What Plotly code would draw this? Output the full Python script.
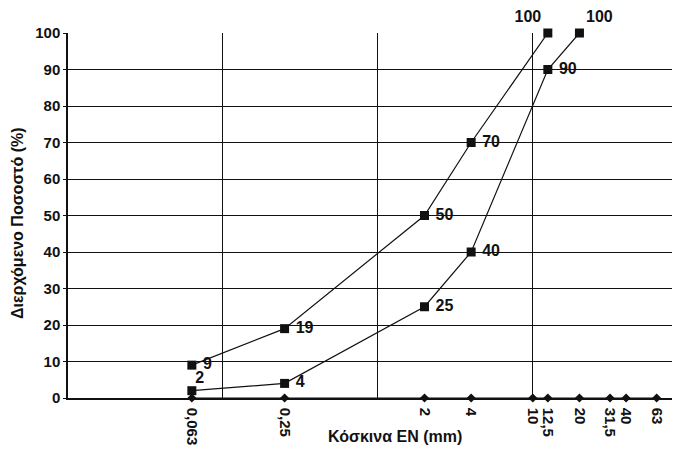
import plotly.graph_objects as go

sieves = [0.063, 0.25, 2, 4, 10, 12.5, 20, 31.5, 40, 63]
sieve_labels = ["0,063", "0,25", "2", "4", "10", "12,5", "20", "31,5", "40", "63"]
sieve_zero = [0] * len(sieves)

upper_x = [0.063, 0.25, 2, 4, 12.5]
upper_y = [9, 19, 50, 70, 100]

lower_x = [0.063, 0.25, 2, 4, 12.5, 20]
lower_y = [2, 4, 25, 40, 90, 100]

# label placement (style only)
upper_pos = ["middle right", "middle right", "middle right", "middle right", "top left"]
upper_gap = [9, 9, 9, 9, 9]
lower_pos = ["top right", "middle right", "middle right", "middle right", "middle right", "top right"]
lower_gap = [4, 9, 9, 9, 9, 9]

decade_grid = [0.1, 1, 10]
y_ticks = list(range(0, 101, 10))

FONT = "Liberation Sans, Arial, sans-serif"
BLACK = "#111111"
PAD = "\u00a0"

fig = go.Figure()

fig.add_trace(go.Scatter(
    x=sieves, y=sieve_zero, mode="lines+markers",
    line=dict(color=BLACK, width=1),
    marker=dict(symbol="diamond", size=7, color=BLACK),
    showlegend=False, cliponaxis=False, hoverinfo="skip"))

for xs, ys, pos, gap in [(upper_x, upper_y, upper_pos, upper_gap),
                         (lower_x, lower_y, lower_pos, lower_gap)]:
    fig.add_trace(go.Scatter(
        x=xs, y=ys, mode="lines+markers",
        line=dict(color=BLACK, width=1.2),
        marker=dict(symbol="square", size=9, color=BLACK),
        showlegend=False, cliponaxis=False))
    labels = [(PAD + str(v)) if p == "middle right" else str(v) for v, p in zip(ys, pos)]
    fig.add_trace(go.Scatter(
        x=xs, y=ys, mode="markers+text",
        marker=dict(size=gap, opacity=0),
        text=labels, textposition=pos,
        textfont=dict(family=FONT, size=16, color=BLACK, weight="bold"),
        showlegend=False, cliponaxis=False, hoverinfo="skip"))

# invisible trace on secondary x axis for decade grid lines
fig.add_trace(go.Scatter(x=[0.1], y=[0], xaxis="x2", mode="markers",
                         marker=dict(opacity=0), showlegend=False, hoverinfo="skip"))

fig.update_layout(
    width=672, height=442,
    margin=dict(l=60, r=0, t=25, b=52, autoexpand=False),
    paper_bgcolor="white", plot_bgcolor="white",
    font=dict(family=FONT, color=BLACK),
    xaxis=dict(type="log", range=[-2, 1.95], automargin=False,
               tickvals=sieves, ticktext=sieve_labels, tickangle=90,
               tickfont=dict(size=15, weight="bold", family=FONT),
               showgrid=False, zeroline=False,
               showline=True, linecolor=BLACK, linewidth=1.5,
               ticks="", ticklabelstandoff=5),
    xaxis2=dict(type="log", range=[-2, 1.95], overlaying="x", automargin=False,
                tickvals=decade_grid, showticklabels=False,
                showgrid=True, gridcolor=BLACK, gridwidth=1,
                zeroline=False, showline=False, ticks=""),
    yaxis=dict(range=[0, 100], tickvals=y_ticks, automargin=False,
               tickfont=dict(size=15, weight="bold", family=FONT),
               showgrid=True, gridcolor=BLACK, gridwidth=1,
               zeroline=False, showline=True, linecolor=BLACK, linewidth=1.5,
               ticks="outside", ticklen=3, tickcolor=BLACK),
    annotations=[
        dict(text="<b>Κόσκινα EN (mm)</b>", xref="paper", yref="paper",
             x=(395 - 68) / 612, y=-(437 - 398) / 365, showarrow=False,
             font=dict(size=16, family=FONT, color=BLACK),
             xanchor="center", yanchor="middle"),
        dict(text="<b>Διερχόμενο Ποσοστό (%)</b>", xref="paper", yref="paper",
             x=(17 - 68) / 612, y=(398 - 223) / 365, textangle=-90, showarrow=False,
             font=dict(size=16, family=FONT, color=BLACK),
             xanchor="center", yanchor="middle"),
    ],
)

fig.write_html("out.html")
